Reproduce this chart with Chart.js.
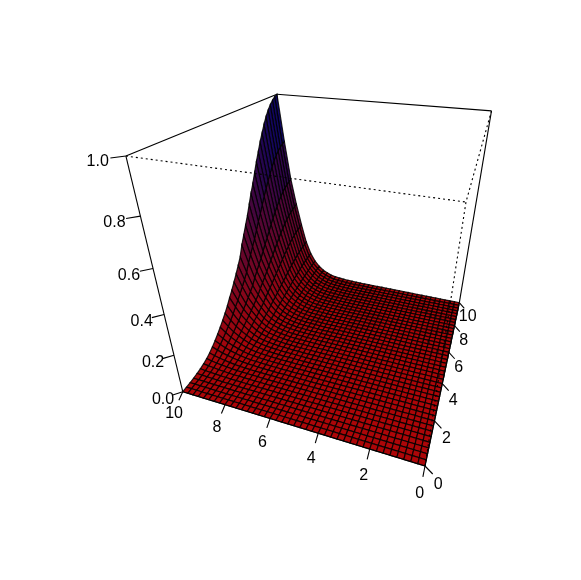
<!DOCTYPE html>
<html>
<head>
<meta charset="utf-8">
<style>
html, body { margin: 0; padding: 0; background: #ffffff; }
canvas { display: block; }
</style>
<script src="https://cdn.jsdelivr.net/npm/chart.js@4"></script>
</head>
<body>
<canvas id="surface" width="581" height="580"></canvas>
<script>
const gridX = [0,0.25,0.5,0.75,1,1.25,1.5,1.75,2,2.25,2.5,2.75,3,3.25,3.5,3.75,4,4.25,4.5,4.75,5,5.25,5.5,5.75,6,6.25,6.5,6.75,7,7.25,7.5,7.75,8,8.25,8.5,8.75,9,9.25,9.5,9.75,10];
const gridY = [0,0.25,0.5,0.75,1,1.25,1.5,1.75,2,2.25,2.5,2.75,3,3.25,3.5,3.75,4,4.25,4.5,4.75,5,5.25,5.5,5.75,6,6.25,6.5,6.75,7,7.25,7.5,7.75,8,8.25,8.5,8.75,9,9.25,9.5,9.75,10];
const xTicks = [0,2,4,6,8,10];
const yTicks = [0,2,4,6,8,10];
const zTicks = [0,0.2,0.4,0.6,0.8,1];
const zTickLabels = ["0.0","0.2","0.4","0.6","0.8","1.0"];

// one row per gridY value
const zRows = [
[0,0,0,0,0,0, 0,0,0,0,0,0, 0,0,0,0,0,0, 0,0,0,0,0,0, 0,0,0,0,0,0,0,0,0,0,0,0,0,0,0,0,0],
[0,0,0,0,0,0, 0,0,0,0,0,0, 0,0,0,0,0,0, 0,0,0,0,0,0, 0,0,0,0,0,0,0,0,0,0,0,0,0,0,.001,.001,.001],
[0,0,0,0,0,0, 0,0,0,0,0,0, 0,0,0,0,0,0, 0,0,0,0,0,0, 0,0,0,0,0,0,0,0,0,0,0,0,.001,.001,.001,.002,.002],
[0,0,0,0,0,0, 0,0,0,0,0,0, 0,0,0,0,0,0, 0,0,0,0,0,0, 0,0,0,0,0,0,0,0,0,0,.001,.001,.001,.002,.002,.003,.004],
[0,0,0,0,0,0, 0,0,0,0,0,0, 0,0,0,0,0,0, 0,0,0,0,0,0, 0,0,0,0,0,0,0,0,0,.001,.001,.001,.002,.003,.004,.005,.007],
[0,0,0,0,0,0, 0,0,0,0,0,0, 0,0,0,0,0,0, 0,0,0,0,0,0, 0,0,0,0,0,0,0,0,.001,.001,.001,.002,.003,.005,.006,.008,.011],
[0,0,0,0,0,0, 0,0,0,0,0,0, 0,0,0,0,0,0, 0,0,0,0,0,0, 0,0,0,0,0,0,0,.001,.001,.002,.002,.003,.005,.007,.01,.013,.017],
[0,0,0,0,0,0, 0,0,0,0,0,0, 0,0,0,0,0,0, 0,0,0,0,0,0, 0,0,0,0,0,0,.001,.001,.002,.002,.003,.005,.008,.011,.014,.019,.025],
[0,0,0,0,0,0, 0,0,0,0,0,0, 0,0,0,0,0,0, 0,0,0,0,0,0, 0,0,0,0,0,.001,.001,.001,.002,.003,.005,.007,.011,.015,.021,.028,.036],
[0,0,0,0,0,0, 0,0,0,0,0,0, 0,0,0,0,0,0, 0,0,0,0,0,0, 0,0,0,0,0,.001,.001,.002,.003,.005,.007,.01,.016,.022,.029,.039,.05],
[0,0,0,0,0,0, 0,0,0,0,0,0, 0,0,0,0,0,0, 0,0,0,0,0,0, 0,0,0,0,.001,.001,.002,.003,.004,.006,.009,.014,.02,.028,.038,.051,.066],
[0,0,0,0,0,0, 0,0,0,0,0,0, 0,0,0,0,0,0, 0,0,0,0,0,0, 0,0,0,.001,.001,.001,.002,.003,.005,.008,.011,.017,.026,.036,.048,.065,.084],
[0,0,0,0,0,0, 0,0,0,0,0,0, 0,0,0,0,0,0, 0,0,0,0,0,0, 0,0,0,.001,.001,.002,.003,.004,.006,.009,.014,.021,.032,.045,.059,.08,.104],
[0,0,0,0,0,0, 0,0,0,0,0,0, 0,0,0,0,0,0, 0,0,0,0,0,0, 0,0,.001,.001,.001,.002,.003,.005,.008,.011,.017,.026,.039,.054,.071,.096,.125],
[0,0,0,0,0,0, 0,0,0,0,0,0, 0,0,0,0,0,0, 0,0,0,0,0,0, 0,0,.001,.001,.001,.002,.004,.006,.009,.013,.02,.03,.046,.063,.084,.113,.147],
[0,0,0,0,0,0, 0,0,0,0,0,0, 0,0,0,0,0,0, 0,0,0,0,0,0, 0,0,.001,.001,.002,.003,.004,.007,.01,.015,.023,.035,.053,.074,.098,.132,.172],
[0,0,0,0,0,0, 0,0,0,0,0,0, 0,0,0,0,0,0, 0,0,0,0,0,0, 0,0,.001,.001,.002,.003,.005,.008,.012,.018,.027,.041,.062,.086,.114,.154,.2],
[0,0,0,0,0,0, 0,0,0,0,0,0, 0,0,0,0,0,0, 0,0,0,0,0,0, 0,0,.001,.001,.002,.003,.006,.009,.014,.02,.031,.046,.07,.097,.129,.174,.226],
[0,0,0,0,0,0, 0,0,0,0,0,0, 0,0,0,0,0,0, 0,0,0,0,0,0, 0,.001,.001,.002,.002,.004,.006,.01,.015,.023,.034,.052,.079,.11,.145,.196,.255],
[0,0,0,0,0,0, 0,0,0,0,0,0, 0,0,0,0,0,0, 0,0,0,0,0,0, 0,.001,.001,.002,.003,.004,.007,.011,.017,.026,.038,.058,.088,.123,.162,.219,.285],
[0,0,0,0,0,0, 0,0,0,0,0,0, 0,0,0,0,0,0, 0,0,0,0,0,0, 0,.001,.001,.002,.003,.005,.008,.012,.019,.029,.043,.065,.098,.136,.181,.244,.317],
[0,0,0,0,0,0, 0,0,0,0,0,0, 0,0,0,0,0,0, 0,0,0,0,0,0, 0,.001,.001,.002,.003,.005,.009,.013,.021,.032,.047,.072,.109,.151,.2,.27,.35],
[0,0,0,0,0,0, 0,0,0,0,0,0, 0,0,0,0,0,0, 0,0,0,0,0,0, 0,.001,.002,.002,.004,.006,.01,.015,.024,.036,.054,.082,.124,.172,.228,.308,.4],
[0,0,0,0,0,0, 0,0,0,0,0,0, 0,0,0,0,0,0, 0,0,0,0,0,0, 0,.001,.002,.003,.004,.007,.011,.017,.026,.04,.059,.09,.136,.189,.251,.339,.44],
[0,0,0,0,0,0, 0,0,0,0,0,0, 0,0,0,0,0,0, 0,0,0,0,0,0, 0,.001,.002,.003,.004,.007,.012,.018,.029,.043,.065,.098,.149,.206,.274,.37,.48],
[0,0,0,0,0,0, 0,0,0,0,0,0, 0,0,0,0,0,0, 0,0,0,0,0,0, .001,.001,.002,.003,.005,.008,.013,.02,.031,.047,.07,.107,.161,.224,.296,.4,.52],
[0,0,0,0,0,0, 0,0,0,0,0,0, 0,0,0,0,0,0, 0,0,0,0,0,0, .001,.001,.002,.003,.005,.008,.014,.021,.034,.051,.076,.116,.175,.243,.322,.435,.565],
[0,0,0,0,0,0, 0,0,0,0,0,0, 0,0,0,0,0,0, 0,0,0,0,0,0, .001,.001,.002,.004,.005,.009,.015,.023,.037,.055,.082,.125,.189,.262,.348,.47,.61],
[0,0,0,0,0,0, 0,0,0,0,0,0, 0,0,0,0,0,0, 0,0,0,0,0,0, .001,.001,.003,.004,.006,.01,.016,.025,.039,.059,.088,.133,.202,.28,.371,.501,.65],
[0,0,0,0,0,0, 0,0,0,0,0,0, 0,0,0,0,0,0, 0,0,0,0,0,0, .001,.001,.003,.004,.006,.01,.017,.026,.042,.063,.094,.142,.215,.299,.396,.535,.695],
[0,0,0,0,0,0, 0,0,0,0,0,0, 0,0,0,0,0,0, 0,0,0,0,0,0, .001,.001,.003,.004,.007,.011,.019,.028,.044,.067,.1,.152,.229,.318,.422,.57,.74],
[0,0,0,0,0,0, 0,0,0,0,0,0, 0,0,0,0,0,0, 0,0,0,0,0,0, .001,.002,.003,.005,.007,.012,.02,.03,.047,.07,.105,.16,.242,.335,.445,.601,.78],
[0,0,0,0,0,0, 0,0,0,0,0,0, 0,0,0,0,0,0, 0,0,0,0,0,0, .001,.002,.003,.005,.007,.012,.021,.031,.049,.074,.111,.168,.254,.353,.467,.631,.82],
[0,0,0,0,0,0, 0,0,0,0,0,0, 0,0,0,0,0,0, 0,0,0,0,0,0, .001,.002,.003,.005,.008,.013,.021,.032,.051,.077,.115,.175,.265,.368,.487,.658,.855],
[0,0,0,0,0,0, 0,0,0,0,0,0, 0,0,0,0,0,0, 0,0,0,0,0,0, .001,.002,.004,.005,.008,.013,.022,.034,.053,.08,.12,.182,.276,.383,.507,.685,.89],
[0,0,0,0,0,0, 0,0,0,0,0,0, 0,0,0,0,0,0, 0,0,0,0,0,0, .001,.002,.004,.006,.008,.014,.023,.035,.055,.083,.124,.189,.285,.396,.524,.708,.92],
[0,0,0,0,0,0, 0,0,0,0,0,0, 0,0,0,0,0,0, 0,0,0,0,0,0, .001,.002,.004,.006,.009,.014,.024,.036,.057,.085,.128,.194,.293,.406,.539,.728,.945],
[0,0,0,0,0,0, 0,0,0,0,0,0, 0,0,0,0,0,0, 0,0,0,0,0,0, .001,.002,.004,.006,.009,.014,.024,.037,.058,.087,.13,.198,.299,.415,.55,.743,.965],
[0,0,0,0,0,0, 0,0,0,0,0,0, 0,0,0,0,0,0, 0,0,0,0,0,0, .001,.002,.004,.006,.009,.015,.025,.037,.059,.088,.132,.201,.304,.421,.559,.755,.98],
[0,0,0,0,0,0, 0,0,0,0,0,0, 0,0,0,0,0,0, 0,0,0,0,0,0, .001,.002,.004,.006,.009,.015,.025,.038,.06,.089,.134,.204,.308,.427,.566,.765,.993],
[0,0,0,0,0,0, 0,0,0,0,0,0, 0,0,0,0,0,0, 0,0,0,0,0,0, .001,.002,.004,.006,.009,.015,.025,.038,.06,.09,.135,.205,.31,.43,.57,.77,1]
];

// viewing transform fitted to the box corners
const cam = { o: [425, 466], u: [-209, -3.0], v: [276.4, -3.8], z: [-107.2, -328.2], g: [0.182, 0.527, -0.318] };

function depth(x, y, z) {
    return 1 + cam.g[0]*x/10 + cam.g[1]*y/10 + cam.g[2]*z;
}

function project(x, y, z) {
    const w = depth(x, y, z);
    return {
        x: (cam.o[0] + cam.u[0]*x/10 + cam.v[0]*y/10 + cam.z[0]*z) / w,
        y: (cam.o[1] + cam.u[1]*x/10 + cam.v[1]*y/10 + cam.z[1]*z) / w
    };
}

function cellColor(z) {
    const r = Math.round(168 * Math.pow(1 - z, 1.3) + 4);
    const g = 6;
    const b = Math.round(8 + 102*z);
    return `rgb(${r},${g},${b})`;
}

function boxLine(points, dashed) {
    return {
        data: points.map(p => project(p[0], p[1], p[2])),
        showLine: true, fill: false, pointRadius: 0,
        borderColor: "#000000", borderWidth: 1.1,
        borderDash: dashed ? [2, 3] : []
    };
}

const cells = [];
for (let j = 0; j < gridY.length - 1; j++) {
    for (let i = 0; i < gridX.length - 1; i++) {
        const corners = [[i, j], [i + 1, j], [i + 1, j + 1], [i, j + 1], [i, j]];
        const zMid = (zRows[j][i] + zRows[j][i+1] + zRows[j+1][i+1] + zRows[j+1][i]) / 4;
        cells.push({
            far: depth((gridX[i] + gridX[i+1]) / 2, (gridY[j] + gridY[j+1]) / 2, zMid),
            data: corners.map(c => project(gridX[c[0]], gridY[c[1]], zRows[c[1]][c[0]])),
            showLine: true, fill: "shape", pointRadius: 0,
            backgroundColor: cellColor(zMid),
            borderColor: "rgba(0,0,0,0.85)", borderWidth: 1.2
        });
    }
}
cells.sort((a, b) => a.far - b.far); // first dataset ends up on top

const frontLines = [
    boxLine([[0,0,0],[0,0,1]], true),
    boxLine([[10,0,1],[0,0,1]], true),
    boxLine([[0,10,1],[0,0,1]], true),
    boxLine([[10,0,0],[0,0,0]], false),
    boxLine([[0,10,0],[0,0,0]], false)
];
xTicks.forEach(t => frontLines.push(boxLine([[t,0,0],[t,-0.3,-0.018]], false)));
yTicks.forEach(t => frontLines.push(boxLine([[0,t,0],[-0.3,t,-0.03]], false)));
zTicks.forEach(t => frontLines.push(boxLine([[10,0,t],[10.3,-0.3,t]], false)));

const backLines = [
    boxLine([[10,0,0],[10,0,1]], false),
    boxLine([[0,10,0],[0,10,1]], false),
    boxLine([[10,0,1],[10,10,1]], false),
    boxLine([[0,10,1],[10,10,1]], false),
    boxLine([[10,10,0],[10,10,1]], false)
];

const tickText = {
    id: "tickText",
    afterDatasetsDraw(chart) {
        const { ctx, scales } = chart;
        const put = (label, p) => ctx.fillText(label, scales.x.getPixelForValue(p.x), scales.y.getPixelForValue(p.y));
        ctx.save();
        ctx.font = '16px "Liberation Sans"';
        ctx.fillStyle = "#000000";
        ctx.textAlign = "center";
        ctx.textBaseline = "middle";
        xTicks.forEach(t => put(String(t), project(t, -0.7, -0.052)));
        yTicks.forEach(t => put(String(t), project(-0.55, t, -0.08)));
        zTicks.forEach((t, k) => put(zTickLabels[k], project(10.55, -0.55, t - 0.006)));
        ctx.restore();
    }
};

new Chart(document.getElementById("surface"), {
    type: "scatter",
    data: { datasets: frontLines.concat(cells, backLines) },
    options: {
        responsive: false,
        animation: false,
        events: [],
        layout: { padding: 0 },
        plugins: { legend: { display: false }, tooltip: { enabled: false } },
        scales: {
            x: { type: "linear", min: 0, max: 581, display: false },
            y: { type: "linear", min: 0, max: 580, reverse: true, display: false }
        }
    },
    plugins: [tickText]
});
</script>
</body>
</html>
